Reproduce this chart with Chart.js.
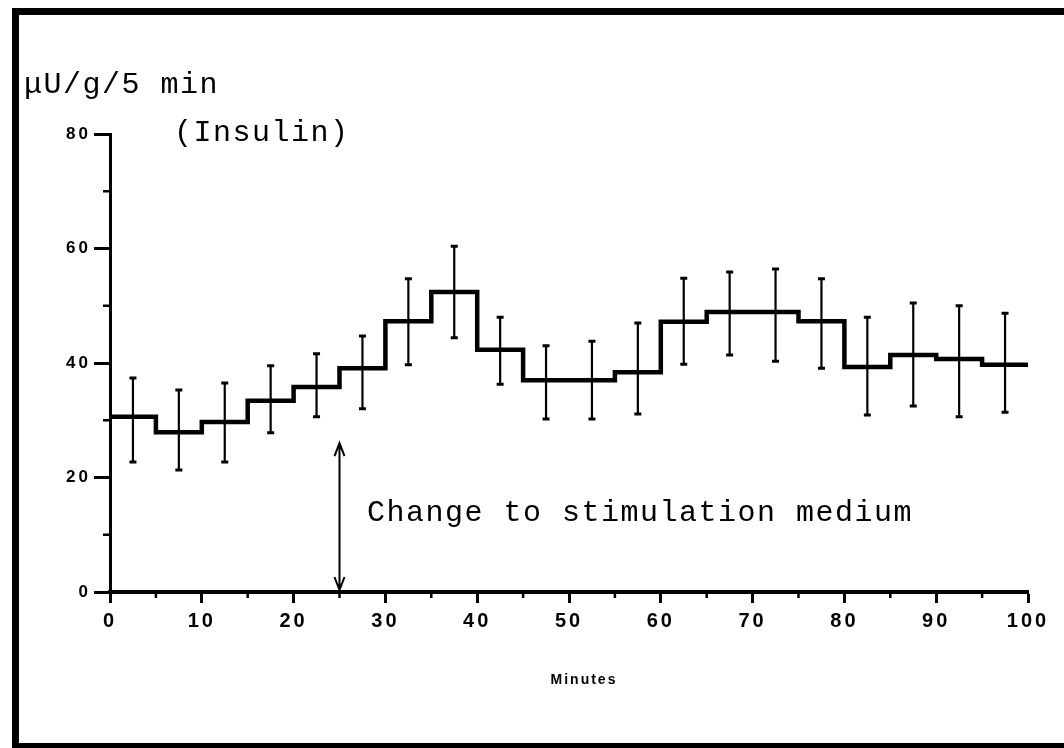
<!DOCTYPE html>
<html>
<head>
<meta charset="utf-8">
<script src="https://cdn.jsdelivr.net/npm/chart.js@4.4.0/dist/chart.umd.min.js"></script>
<style>
  html, body { margin: 0; padding: 0; background: #fff; }
  #wrap { width: 1064px; height: 748px; }
</style>
</head>
<body>
<div id="wrap"><canvas id="insulinChart" width="1064" height="748"></canvas></div>
<script>
// Insulin secretion per 5-min collection period
const periodStart = [0, 5, 10, 15, 20, 25, 30, 35, 40, 45, 50, 55, 60, 65, 70, 75, 80, 85, 90, 95];
const insulin = [30.6, 27.9, 29.7, 33.4, 35.8, 39.1, 47.3, 52.4, 42.3, 37.0, 37.0, 38.4, 47.2, 48.9, 48.9, 47.3, 39.3, 41.4, 40.7, 39.7];
const errHigh = [37.4, 35.3, 36.5, 39.5, 41.6, 44.7, 54.7, 60.4, 48.0, 43.0, 43.8, 47.0, 54.8, 55.9, 56.4, 54.7, 48.0, 50.5, 50.0, 48.7];
const errLow  = [22.7, 21.3, 22.7, 27.8, 30.6, 32.0, 39.7, 44.4, 36.3, 30.2, 30.2, 31.1, 39.8, 41.4, 40.3, 39.1, 30.9, 32.5, 30.6, 31.4];
const periodLength = 5;
const xTicks = [0, 10, 20, 30, 40, 50, 60, 70, 80, 90, 100];
const yTicks = [0, 20, 40, 60, 80];
const changeAt = 25;      // minutes
const arrowTop = 26;      // µU/g/5 min

const MONO = '"Courier New", "Liberation Mono", monospace';
const SANS = '"Liberation Sans", Arial, sans-serif';

// step line: one point per period start, plus the end of the last period
const stepPoints = periodStart.map((m, i) => ({ x: m, y: insulin[i] }));
stepPoints.push({ x: periodStart[periodStart.length - 1] + periodLength, y: insulin[insulin.length - 1] });

const isMajorX = v => xTicks.includes(v);
const isMajorY = v => yTicks.includes(v);

const paperPlugin = {
    id: 'paper',
    beforeDraw(chart) {
        const ctx = chart.ctx;
        ctx.save();
        ctx.fillStyle = '#fff';
        ctx.fillRect(0, 0, chart.width, chart.height);
        // scanned page frame
        ctx.fillStyle = '#000';
        ctx.fillRect(12, 8, 7, 740);
        ctx.fillRect(12, 8, 1052, 7);
        ctx.fillRect(12, 743, 1052, 5);
        ctx.restore();
        ctx.letterSpacing = '3px';
    },
    afterDatasetsDraw(chart) {
        const ctx = chart.ctx;
        const xs = chart.scales.x, ys = chart.scales.y;
        ctx.save();
        ctx.strokeStyle = '#000';
        ctx.fillStyle = '#000';

        // error bars at the middle of each period
        periodStart.forEach((m, i) => {
            const px = xs.getPixelForValue(m + periodLength / 2);
            const top = ys.getPixelForValue(errHigh[i]);
            const bot = ys.getPixelForValue(errLow[i]);
            ctx.lineWidth = 2.2;
            ctx.beginPath();
            ctx.moveTo(px, top);
            ctx.lineTo(px, bot);
            ctx.stroke();
            ctx.lineWidth = 3;
            ctx.beginPath();
            ctx.moveTo(px - 3.5, top); ctx.lineTo(px + 3.5, top);
            ctx.moveTo(px - 3.5, bot); ctx.lineTo(px + 3.5, bot);
            ctx.stroke();
        });

        // minor tick marks
        ctx.lineWidth = 2.5;
        ctx.beginPath();
        xs.ticks.forEach(t => {
            if (isMajorX(t.value)) return;
            const px = xs.getPixelForValue(t.value);
            ctx.moveTo(px, xs.top);
            ctx.lineTo(px, xs.top + 6);
        });
        ys.ticks.forEach(t => {
            if (isMajorY(t.value)) return;
            const py = ys.getPixelForValue(t.value);
            ctx.moveTo(ys.right, py);
            ctx.lineTo(ys.right - 7, py);
        });
        ctx.stroke();

        // double-headed arrow marking the medium change
        const ax = xs.getPixelForValue(changeAt);
        const aTop = ys.getPixelForValue(arrowTop);
        const aBot = ys.getPixelForValue(0) - 2;
        ctx.lineWidth = 2;
        ctx.beginPath();
        ctx.moveTo(ax, aTop); ctx.lineTo(ax, aBot);
        ctx.moveTo(ax - 5, aTop + 13); ctx.lineTo(ax, aTop); ctx.lineTo(ax + 5, aTop + 13);
        ctx.moveTo(ax - 5, aBot - 13); ctx.lineTo(ax, aBot); ctx.lineTo(ax + 5, aBot - 13);
        ctx.stroke();

        // typed labels
        ctx.font = '30px ' + MONO;
        ctx.letterSpacing = '1.5px';
        ctx.textAlign = 'left';
        ctx.textBaseline = 'alphabetic';
        ctx.fillText('\u03bcU/g/5 min', 24, 93);
        ctx.fillText('(Insulin)', 174, 141);
        ctx.fillText('Change to stimulation medium', 367, 521);

        ctx.font = 'bold 14px ' + SANS;
        ctx.letterSpacing = '2px';
        ctx.textAlign = 'center';
        ctx.fillText('Minutes', 584, 684);
        ctx.restore();
    }
};

new Chart(document.getElementById('insulinChart'), {
    type: 'line',
    data: {
        datasets: [{
            data: stepPoints,
            stepped: 'before',
            borderColor: '#000',
            borderWidth: 4.5,
            pointRadius: 0,
            fill: false
        }]
    },
    options: {
        responsive: false,
        animation: false,
        devicePixelRatio: 1,
        layout: { padding: { left: 0, right: 36, top: 134, bottom: 0 } },
        plugins: { legend: { display: false }, tooltip: { enabled: false } },
        scales: {
            x: {
                type: 'linear',
                min: 0,
                max: 100,
                afterFit(scale) { scale.height = 156; },
                border: { color: '#000', width: 4 },
                grid: {
                    drawOnChartArea: false,
                    tickLength: 11,
                    tickWidth: 3,
                    tickColor: c => (c.tick && isMajorX(c.tick.value)) ? '#000' : 'rgba(0,0,0,0)'
                },
                ticks: {
                    stepSize: 5,
                    autoSkip: false,
                    maxRotation: 0,
                    padding: 6,
                    color: '#000',
                    font: { family: SANS, size: 20, weight: 'bold' },
                    callback: v => isMajorX(v) ? String(v) : ''
                }
            },
            y: {
                min: 0,
                max: 80,
                afterFit(scale) { scale.width = 110; },
                border: { color: '#000', width: 3 },
                grid: {
                    drawOnChartArea: false,
                    tickLength: 16,
                    tickWidth: 3,
                    tickColor: c => (c.tick && isMajorY(c.tick.value)) ? '#000' : 'rgba(0,0,0,0)'
                },
                ticks: {
                    stepSize: 10,
                    autoSkip: false,
                    padding: 3,
                    color: '#000',
                    font: { family: SANS, size: 17, weight: 'bold' },
                    callback: v => isMajorY(v) ? String(v) : ''
                }
            }
        }
    },
    plugins: [paperPlugin]
});
</script>
</body>
</html>
